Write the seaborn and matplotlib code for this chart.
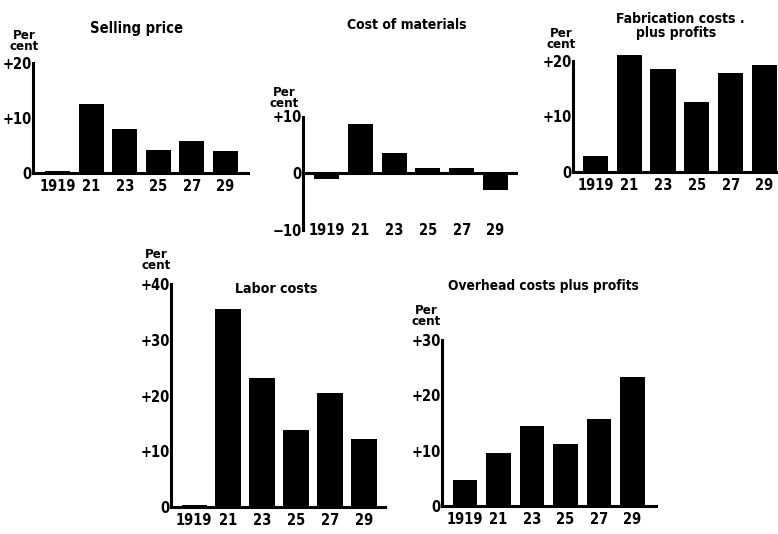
import matplotlib
matplotlib.use("Agg")
import matplotlib.pyplot as plt
import seaborn as sns
import pandas as pd

years = ["1919", "21", "23", "25", "27", "29"]
selling_price = [0.3, 12.5, 8.0, 4.2, 5.8, 4.0]
cost_of_materials = [-1.0, 8.6, 3.5, 0.9, 0.9, -3.0]
fabrication_costs = [2.9, 21.0, 18.5, 12.6, 17.9, 19.2]
labor_costs = [0.4, 35.5, 23.2, 13.8, 20.5, 12.2]
overhead_costs = [4.7, 9.6, 14.5, 11.2, 15.7, 23.3]

sns.set_style("white")
plt.rcParams["font.family"] = ["DejaVu Sans"]
plt.rcParams["font.stretch"] = "condensed"
plt.rcParams["font.weight"] = "bold"

W, H = 778, 534
fig = plt.figure(figsize=(W / 100, H / 100), dpi=100)
fig.patch.set_facecolor("white")

FS = 10.5


def px(x, y):
    return x / W, 1 - y / H


def make_panel(values, left, y0px, y_per_unit, ylo, yhi, spine_lo, spine_hi,
               ticks, ticklabels, right, xlim, zero_inside=False):
    top = y0px - yhi * y_per_unit
    bottom = y0px - ylo * y_per_unit
    ax = fig.add_axes([left / W, 1 - bottom / H, (right - left) / W, (bottom - top) / H])
    df = pd.DataFrame({"year": years, "value": values})
    sns.barplot(data=df, x="year", y="value", color="black", width=0.74,
                saturation=1, ax=ax, edgecolor="black", linewidth=0)
    for p in ax.patches:
        p.set_clip_on(False)
    ax.set_xlim(*xlim)
    ax.set_ylim(ylo, yhi)
    ax.set_xlabel("")
    ax.set_ylabel("")
    ax.set_facecolor("none")
    for s in ["top", "right"]:
        ax.spines[s].set_visible(False)
    ax.spines["left"].set_bounds(spine_lo, spine_hi)
    ax.spines["left"].set_linewidth(2.2)
    ax.spines["left"].set_color("black")
    if zero_inside:
        ax.spines["bottom"].set_visible(False)
        ax.axhline(0, color="black", lw=2.2, xmin=0, xmax=1)
        xpad = -4.5
    else:
        ax.spines["bottom"].set_linewidth(2.2)
        ax.spines["bottom"].set_color("black")
        xpad = 4
    ax.set_yticks(ticks)
    ax.set_yticklabels(ticklabels, fontsize=FS, fontweight="bold", fontstretch="condensed")
    ax.tick_params(axis="y", direction="in", length=4, width=1.5, pad=1, colors="black")
    ax.tick_params(axis="x", length=0, pad=xpad, labelsize=FS, colors="black")
    for t in ax.get_xticklabels():
        t.set_fontweight("bold")
        t.set_fontstretch("condensed")
    return ax


make_panel(selling_price, 33, 173, 5.5, 0, 20, 0, 20, [0, 10, 20],
           ["0", "+10", "+20"], 248, (-0.73, 5.67))
make_panel(cost_of_materials, 303, 173, 5.65, -10, 10, -10, 10, [-10, 0, 10],
           ["\u221210", "0", "+10"], 518, (-0.70, 5.67), zero_inside=True)
make_panel(fabrication_costs, 573, 172, 5.55, 0, 20, 0, 20, [0, 10, 20],
           ["0", "+10", "+20"], 778, (-0.66, 5.40))
make_panel(labor_costs, 171, 507, 5.57, 0, 40, 0, 40, [0, 10, 20, 30, 40],
           ["0", "+10", "+20", "+30", "+40"], 385, (-0.68, 5.62))
make_panel(overhead_costs, 442, 506, 5.53, 0, 30, 0, 30, [0, 10, 20, 30],
           ["0", "+10", "+20", "+30"], 656, (-0.69, 5.70))

tkw = dict(fontweight="bold", fontstretch="condensed", ha="center", va="center",
           color="black")
fig.text(*px(136, 28), "Selling price", fontsize=10.5, **tkw)
fig.text(*px(407, 25), "Cost of materials", fontsize=10, **tkw)
fig.text(*px(680, 19), "Fabrication costs .", fontsize=10, **tkw)
fig.text(*px(676, 33), "plus profits", fontsize=10, **tkw)
fig.text(*px(276, 289), "Labor costs", fontsize=10.2, **tkw)
fig.text(*px(543, 286), "Overhead costs plus profits", fontsize=9.8, **tkw)

pkw = dict(fontweight="bold", fontstretch="condensed", ha="center", va="center",
           color="black", fontsize=9.5, linespacing=0.85)
fig.text(*px(24, 41), "Per\ncent", **pkw)
fig.text(*px(284, 98), "Per\ncent", **pkw)
fig.text(*px(561, 39), "Per\ncent", **pkw)
fig.text(*px(156, 260), "Per\ncent", **pkw)
fig.text(*px(426, 316), "Per\ncent", **pkw)

fig.savefig("out.png", dpi=100, facecolor="white")
